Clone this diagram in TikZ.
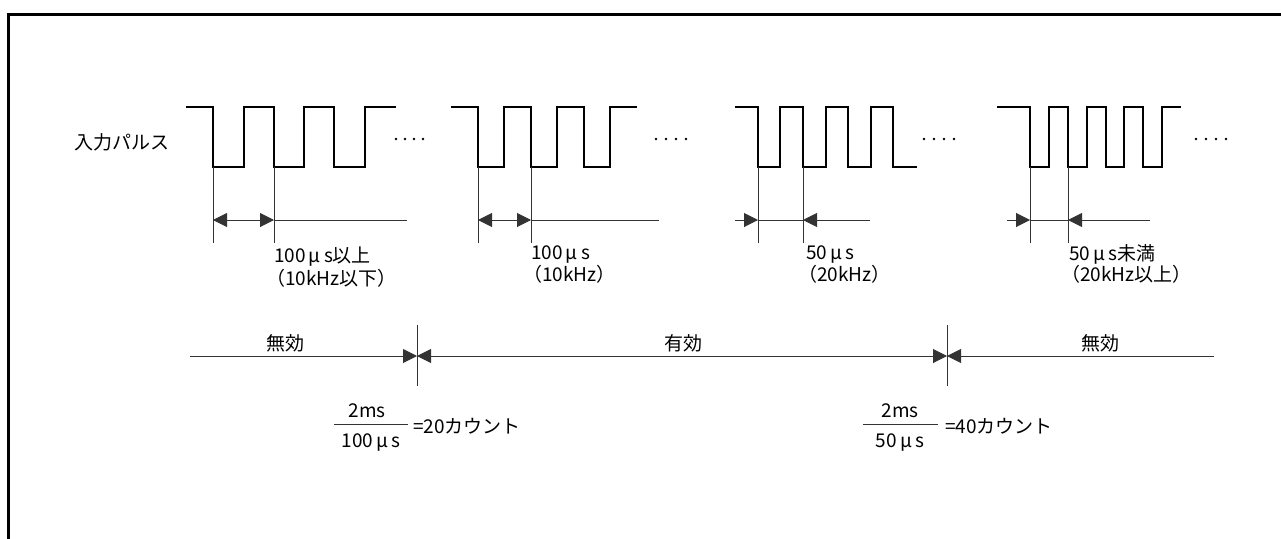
\documentclass[tikz,border=0pt]{standalone}
\usepackage{fontspec}
\setmainfont{Noto Sans CJK JP}
\usetikzlibrary{arrows.meta}

\begin{document}
\begin{tikzpicture}[
                    x=1pt,
                    y=-1pt,
                    font=\fontsize{19}{20}\selectfont,
                    pulse/.style={line width=2pt, line join=miter},
                    dim/.style={line width=1pt, black!80},
                    tip/.style={-{Triangle[length=14pt,width=14pt]}},
                    tips/.style={{Triangle[length=14pt,width=14pt]}-{Triangle[length=14pt,width=14pt]}},
                    lbl/.style={inner sep=0pt, anchor=west}
                ]
                \useasboundingbox (0,0) rectangle (1281,538);
                \draw[line width=3pt] (8,545) -- (8,14) -- (1290,14);

                % input pulse trains
                \node[inner sep=0pt, anchor=east] (inp) at (170,142) {入力パルス};
                \draw[pulse] (186,107) -| (213,167) -| (244,107) -| (274,167) -| (304,107) -| (334,167) -| (365,107) -- (396,107);
                \draw[pulse] (451,107) -| (478,167) -| (504,107) -| (531,167) -| (557,107) -| (584,167) -| (610,107) -- (637,107);
                \draw[pulse] (735,107) -| (758,167) -| (780,107) -| (803,167) -| (826,107) -| (848,167) -| (871,107) -| (893,167) -- (917,167);
                \draw[pulse] (997,107) -| (1030,167) -| (1049,107) -| (1068,167) -| (1087,107) -| (1106,167) -| (1124,107) -| (1143,167) -| (1162,107) -- (1181,107);
                \foreach \x in {396,405,414,423} \fill (\x,139) circle (1.3);
                \foreach \x in {656,666,676,686,924,934,944,954,1196,1206,1216,1226} \fill (\x,139) circle (1.3);

                % pulse widths
                \coordinate (a1) at (213,220); \coordinate (b1) at (274,220); \coordinate (e1) at (407,220);
                \coordinate (a2) at (478,220); \coordinate (b2) at (531,220); \coordinate (e2) at (659,220);
                \coordinate (s3) at (735,220); \coordinate (a3) at (758,220); \coordinate (b3) at (803,220); \coordinate (e3) at (870,220);
                \coordinate (s4) at (1007,220); \coordinate (a4) at (1030,220); \coordinate (b4) at (1068,220); \coordinate (e4) at (1150,220);
                \foreach \x in {213,274,478,531,758,803,1030,1068}
                    \draw[dim] (\x,167) -- (\x,243);
                \draw[dim, tips] (a1) -- (b1);
                \draw[dim] (b1) -- (e1);
                \draw[dim, tips] (a2) -- (b2);
                \draw[dim] (b2) -- (e2);
                \draw[dim, tip] (s3) -- (a3);
                \draw[dim] (a3) -- (b3);
                \draw[dim, tip] (e3) -- (b3);
                \draw[dim, tip] (s4) -- (a4);
                \draw[dim] (a4) -- (b4);
                \draw[dim, tip] (e4) -- (b4);

                \node[lbl] (w1) at (274,257) {100\,μ\,s以上};
                \node[lbl] (f1) at (266,278) {（10kHz以下）};
                \node[lbl] (w2) at (531,254) {100\,μ\,s};
                \node[lbl] (f2) at (523,274) {（10kHz）};
                \node[lbl] (w3) at (806,254) {50\,μ\,s};
                \node[lbl] (f3) at (798,274) {（20kHz）};
                \node[lbl] (w4) at (1069,254) {50\,μ\,s未満};
                \node[lbl] (f4) at (1061,274) {（20kHz以上）};

                % valid range
                \coordinate (r0) at (190,356); \coordinate (r1) at (417,356);
                \coordinate (r2) at (947,356); \coordinate (r3) at (1214,356);
                \draw[dim] (417,325) -- (417,386);
                \draw[dim] (947,325) -- (947,386);
                \draw[dim, tip] (r0) -- (r1);
                \draw[dim, tips] (r1) -- (r2);
                \draw[dim, tip] (r3) -- (r2);
                \node[inner sep=0pt] (inv1) at (285,343) {無効};
                \node[inner sep=0pt] (val) at (683,343) {有効};
                \node[inner sep=0pt] (inv2) at (1100,343) {無効};

                % counts
                \node[inner sep=0pt] (num1) at (367,411) {2ms};
                \node[inner sep=0pt] (den1) at (371,442) {100\,μ\,s};
                \draw[dim] (334,424) -- (408,424);
                \node[lbl] (cnt1) at (413,426) {=20カウント};
                \node[inner sep=0pt] (num2) at (900,411) {2ms};
                \node[inner sep=0pt] (den2) at (900,442) {50\,μ\,s};
                \draw[dim] (863,424) -- (938,424);
                \node[lbl] (cnt2) at (945,426) {=40カウント};
\end{tikzpicture}
\end{document}
